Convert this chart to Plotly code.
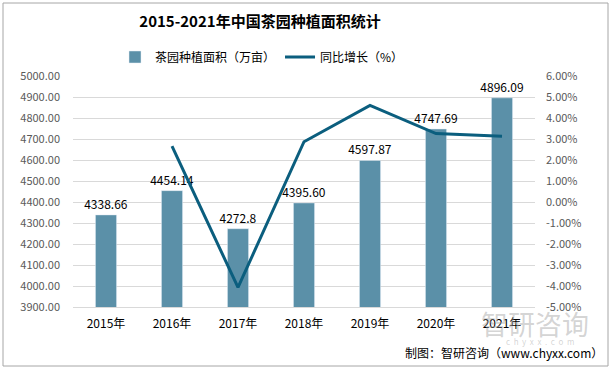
import plotly.graph_objects as go

years = ["2015年", "2016年", "2017年", "2018年", "2019年", "2020年", "2021年"]
area = [4338.66, 4454.14, 4272.8, 4395.60, 4597.87, 4747.69, 4896.09]
area_labels = ["4338.66", "4454.14", "4272.8", "4395.60", "4597.87", "4747.69", "4896.09"]
growth = [None, 2.66, -4.07, 2.87, 4.60, 3.26, 3.13]
left_ticks = [3900 + 100 * i for i in range(12)]
right_ticks = [-5 + i for i in range(12)]

W, H = 613, 371
L, R, T, B = 73, 535, 76, 307
pw, ph = R - L, B - T

def px(x):
    return (x - L) / pw

def py(y):
    return (B - y) / ph

FONT = "Noto Sans CJK SC, Liberation Sans, sans-serif"

fig = go.Figure()
fig.add_trace(go.Bar(
    x=years, y=area, name="茶园种植面积（万亩）",
    marker_color="#5B90A8", width=0.32,
    text=area_labels, textposition="outside", constraintext="none",
    textfont=dict(size=12, color="#000000"),
    cliponaxis=False,
))
fig.add_trace(go.Scatter(
    x=years, y=growth, name="同比增长（%）", yaxis="y2",
    mode="lines", line=dict(color="#0B5E7E", width=3),
))

fig.update_layout(
    width=W, height=H,
    margin=dict(l=L, r=W - R, t=T, b=H - B, autoexpand=False),
    paper_bgcolor="white", plot_bgcolor="white",
    font=dict(family=FONT, size=11, color="#595959"),
    title=dict(text="<b>2015-2021年中国茶园种植面积统计</b>", x=260 / W, xanchor="center",
               y=1 - 22 / H, yanchor="middle", font=dict(size=15, color="#000000")),
    showlegend=True,
    legend=dict(orientation="h", x=px(262), xanchor="center", y=py(57), yanchor="middle",
                font=dict(size=12, color="#000000"), itemwidth=30, tracegroupgap=0,
                bgcolor="rgba(0,0,0,0)"),
    xaxis=dict(type="category", showgrid=False, showline=True, linecolor="#D9D9D9",
               linewidth=1, ticks="", tickfont=dict(size=12, color="#000000"),
               ticklabelstandoff=6, automargin=False),
    yaxis=dict(range=[3900, 5000], tickvals=left_ticks,
               ticktext=[f"{v:.2f}" for v in left_ticks],
               showgrid=True, gridcolor="#D9D9D9", gridwidth=1, zeroline=False,
               showline=False, ticks="", ticklabelstandoff=12, automargin=False),
    yaxis2=dict(range=[-5, 6], overlaying="y", side="right", tickvals=right_ticks,
                ticktext=[f"{v:.2f}%" for v in right_ticks],
                showgrid=False, zeroline=False, showline=False, ticks="",
                ticklabelstandoff=10, automargin=False),
)

fig.add_shape(type="rect", xref="paper", yref="paper",
              x0=px(3), x1=px(608), y0=py(366), y1=py(3),
              line=dict(color="#A6A6A6", width=1), fillcolor="rgba(0,0,0,0)", layer="below")

fig.add_annotation(text="智研咨询", xref="paper", yref="paper", x=px(535), y=py(323),
                   xanchor="center", yanchor="middle", showarrow=False,
                   font=dict(size=27, color="rgba(160,160,160,0.45)", family=FONT))
fig.add_annotation(text="c  h  y  x  x  .  c  o  m", xref="paper", yref="paper", x=px(540), y=py(341),
                   xanchor="center", yanchor="middle", showarrow=False,
                   font=dict(size=8, color="rgba(160,160,160,0.45)", family=FONT))
fig.add_annotation(text="制图：智研咨询（www.chyxx.com）", xref="paper", yref="paper",
                   x=px(605), y=py(352), xanchor="right", yanchor="middle", showarrow=False,
                   font=dict(size=12, color="#000000", family=FONT))

fig.write_html("out.html", config={"displayModeBar": False},
               post_script="document.body.style.margin='0';document.body.style.overflow='hidden';")
